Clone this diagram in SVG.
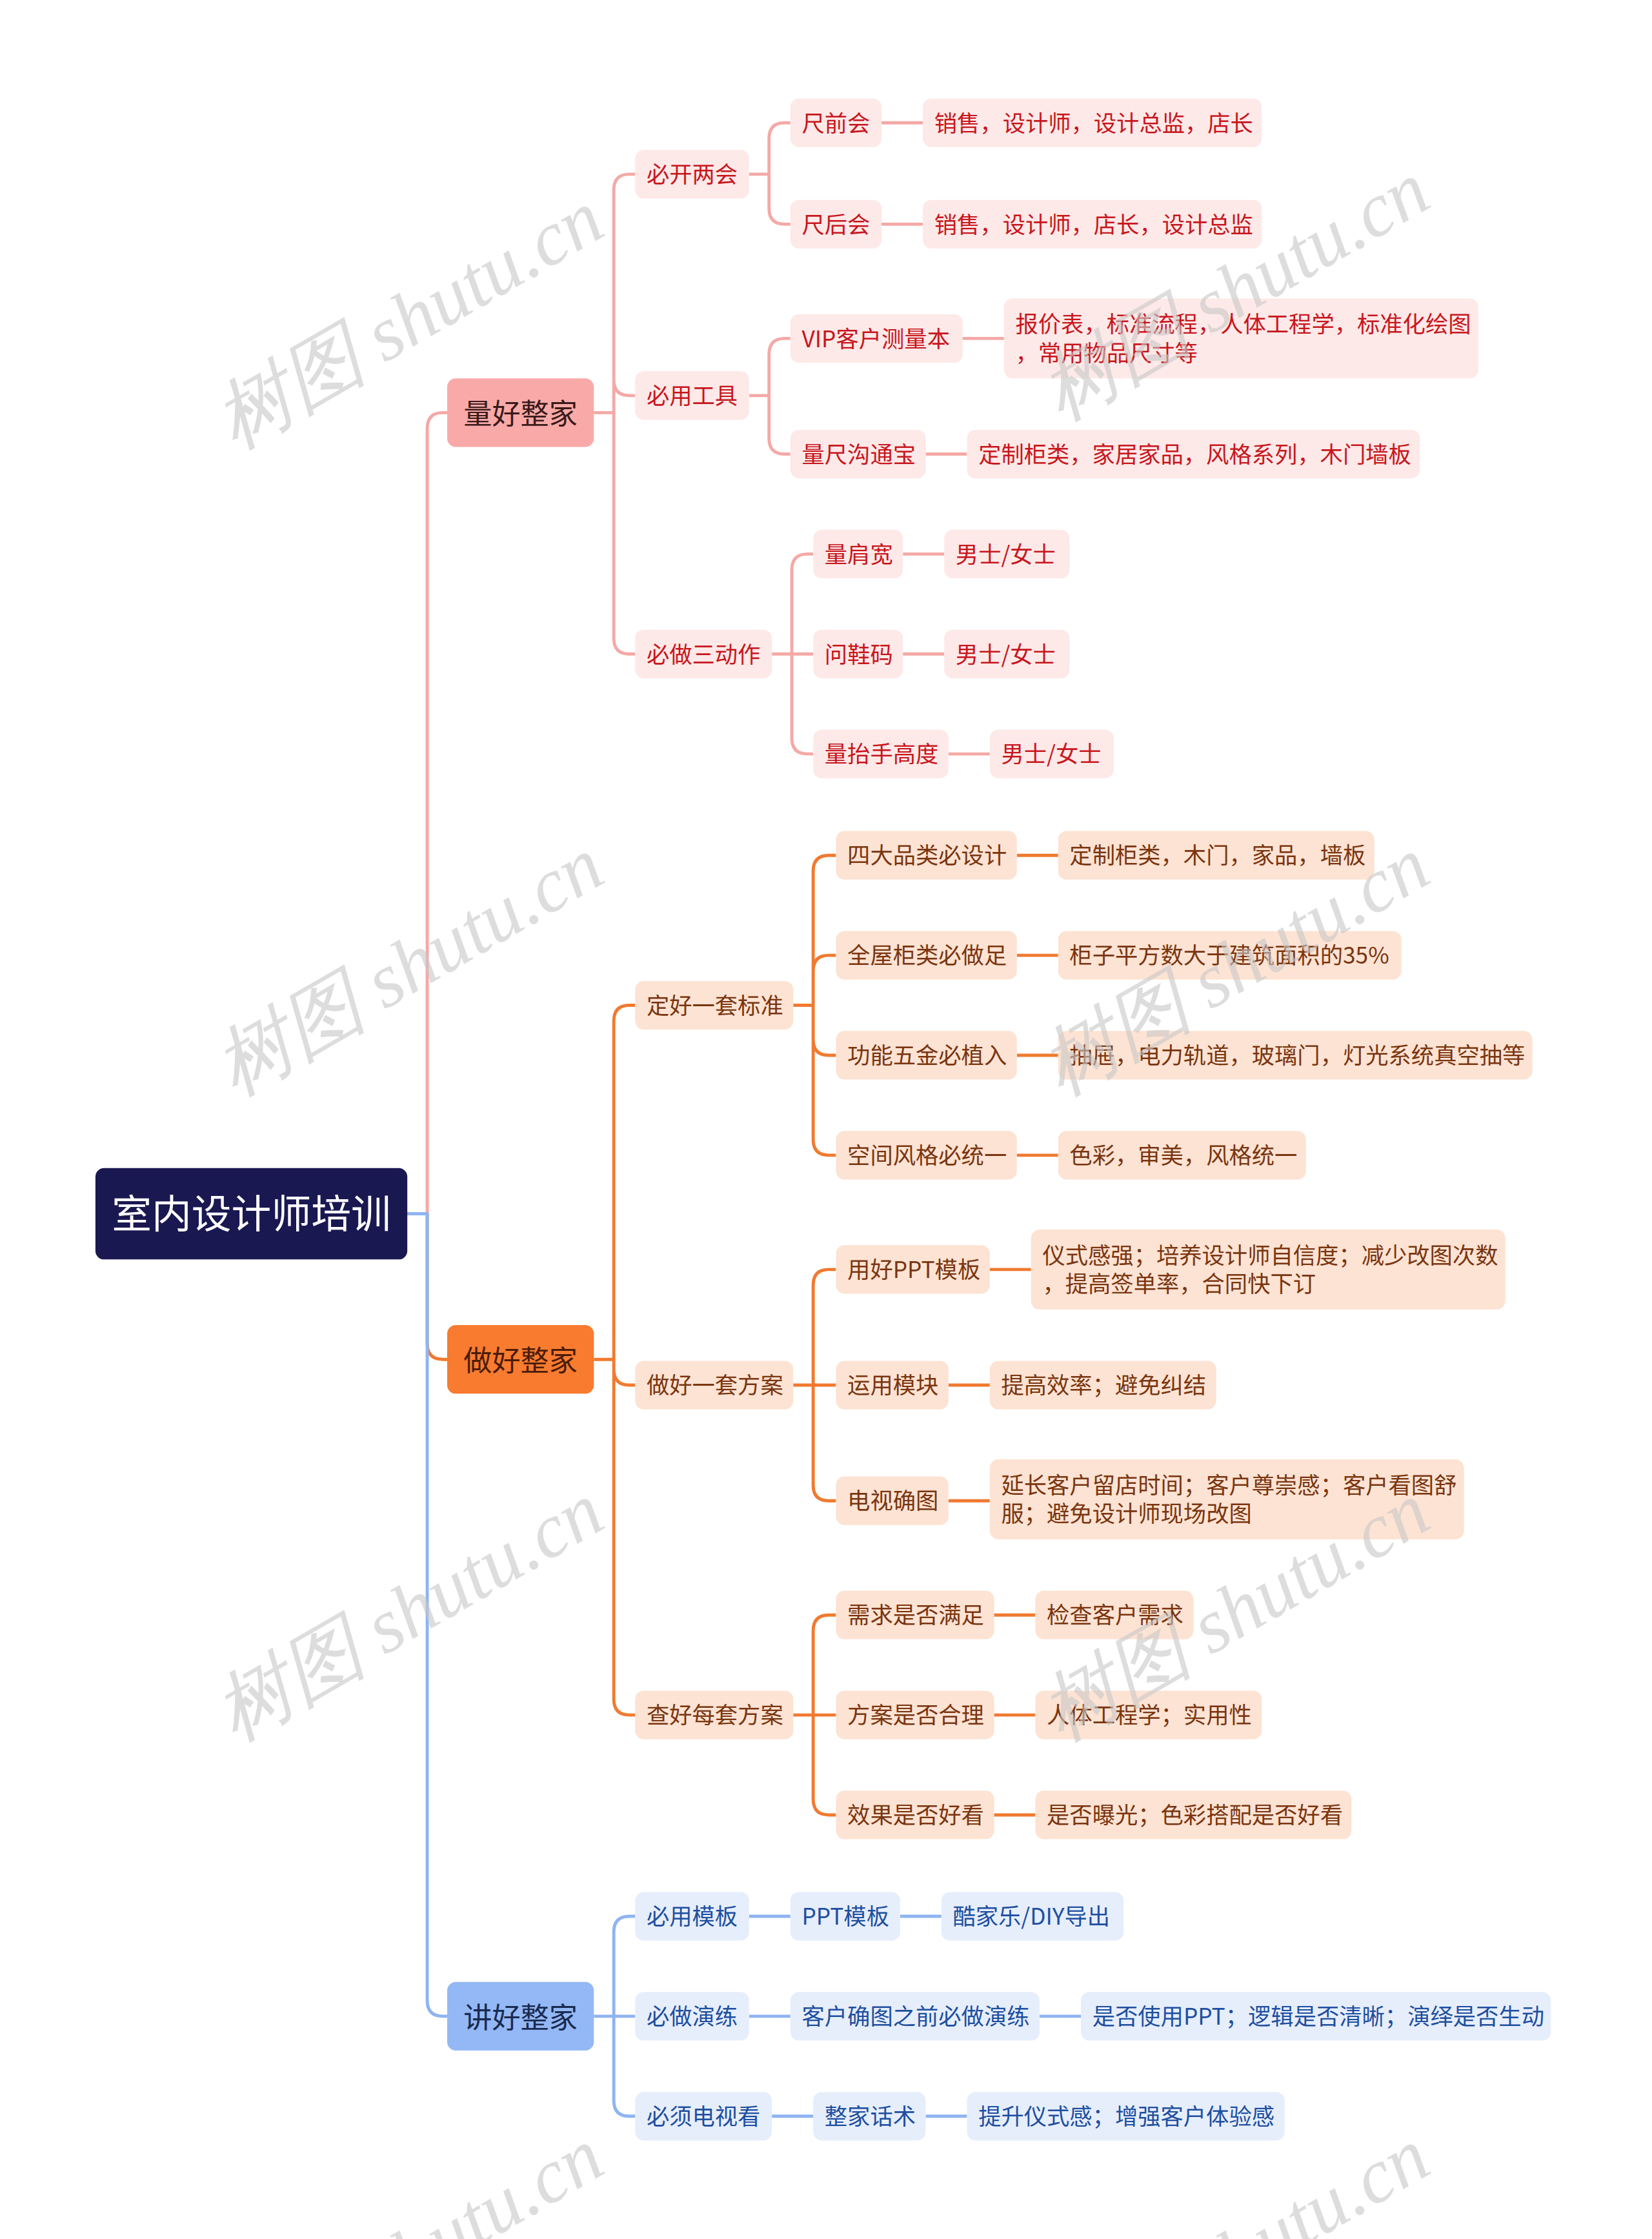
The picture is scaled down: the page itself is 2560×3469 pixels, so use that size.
<svg xmlns="http://www.w3.org/2000/svg" width="2560" height="3469" viewBox="0 0 2560 3469">
<style>
text{font-family:"Noto Sans CJK SC","Noto Sans",sans-serif;font-size:16px}
.c{fill:none;stroke-width:2.2;stroke-linejoin:round}
.cp{stroke:#f4a9a6}.co{stroke:#f07a30}.cb{stroke:#8fb4f2}
.np{fill:#fde9e8}.tp{fill:#c8161d}
.no{fill:#fde3d3}.to{fill:#7a3510}
.nb{fill:#e6eefc}.tb{fill:#1f4fa0}
.wm{font-family:"Liberation Serif",serif;font-style:italic;font-size:54px;fill:#c8c8c8;opacity:0.6}
</style>
<rect width="2560" height="3469" fill="#fff"/>
<g transform="scale(2.2069,2.2124)">
<g id="connectors">
<path class="c co" stroke-width="3" d="M286,850 H300 V941 Q300,952 311,952 H314"/>
<path class="c cp" stroke-width="3" d="M286,850 H300 V300 Q300,289 311,289 H314"/>
<path class="c cb" stroke-width="3" d="M286,850 H300 V1401 Q300,1412 311,1412 H314"/>
<path class="c cp" d="M417,289 H431 V133 Q431,122 442,122 H446 M431,289 V266 Q431,277 442,277 H446 M431,289 V447 Q431,458 442,458 H446"/>
<path class="c cp" d="M526,122 H540 V97 Q540,86 551,86 H555 M540,122 V146 Q540,157 551,157 H555 M619,86 H648 M619,157 H648"/>
<path class="c cp" d="M526,277 H540 V248 Q540,237 551,237 H555 M540,277 V307 Q540,318 551,318 H555 M676,237 H705 M650,318 H679"/>
<path class="c cp" d="M542,458 H556 V399 Q556,388 567,388 H571 M556,458 H571 M556,458 V517 Q556,528 567,528 H571 M634,388 H663 M634,458 H663 M666,528 H695"/>
<path class="c co" d="M417,952 H431 V715 Q431,704 442,704 H446 M431,952 V959 Q431,970 442,970 H446 M431,952 V1190 Q431,1201 442,1201 H446"/>
<path class="c co" d="M557,704 H571 V610 Q571,599 582,599 H587 M571,704 V680 Q571,669 582,669 H587 M571,704 V728 Q571,739 582,739 H587 M571,704 V798 Q571,809 582,809 H587 M714,599 H743 M714,669 H743 M714,739 H743 M714,809 H743"/>
<path class="c co" d="M557,970 H571 V900 Q571,889 582,889 H587 M557,970 H587 M571,970 V1040 Q571,1051 582,1051 H587 M695,889 H724 M666,970 H695 M666,1051 H695"/>
<path class="c co" d="M557,1201 H571 V1142 Q571,1131 582,1131 H587 M557,1201 H587 M571,1201 V1260 Q571,1271 582,1271 H587 M698,1131 H727 M698,1201 H727 M698,1271 H727"/>
<path class="c cb" d="M417,1412 H431 V1353 Q431,1342 442,1342 H446 M417,1412 H446 M431,1412 V1471 Q431,1482 442,1482 H446"/>
<path class="c cb" d="M526,1342 H555 M632,1342 H661 M526,1412 H555 M730,1412 H759 M542,1482 H571 M650,1482 H679"/>
</g>
<g id="root"><rect x="67" y="818" width="219" height="64" rx="6" fill="#1a1851"/><text x="176.5" y="860" text-anchor="middle" fill="#fff" style="font-size:28px">室内设计师培训</text></g>
<g id="l1a"><rect x="314" y="265" width="103" height="48" rx="6" fill="#f9aaa8"/><text x="365.5" y="297" text-anchor="middle" fill="#3a1a1a" style="font-size:20px">量好整家</text></g>
<g id="l1b"><rect x="314" y="928" width="103" height="48" rx="6" fill="#f97b30"/><text x="365.5" y="960" text-anchor="middle" fill="#4a1c08" style="font-size:20px">做好整家</text></g>
<g id="l1c"><rect x="314" y="1388" width="103" height="48" rx="6" fill="#93b8f5"/><text x="365.5" y="1420" text-anchor="middle" fill="#1a2a50" style="font-size:20px">讲好整家</text></g>
<g id="p1"><rect class="np" x="446" y="105" width="80" height="34" rx="6"/><text class="tp" x="454" y="128">必开两会</text></g>
<g id="p2"><rect class="np" x="446" y="260" width="80" height="34" rx="6"/><text class="tp" x="454" y="283">必用工具</text></g>
<g id="p3"><rect class="np" x="446" y="441" width="96" height="34" rx="6"/><text class="tp" x="454" y="464">必做三动作</text></g>
<g id="p11"><rect class="np" x="555" y="69" width="64" height="34" rx="6"/><text class="tp" x="563" y="92">尺前会</text></g>
<g id="p11l"><rect class="np" x="648" y="69" width="238" height="34" rx="6"/><text class="tp" x="656" y="92">销售，设计师，设计总监，店长</text></g>
<g id="p12"><rect class="np" x="555" y="140" width="64" height="34" rx="6"/><text class="tp" x="563" y="163">尺后会</text></g>
<g id="p12l"><rect class="np" x="648" y="140" width="238" height="34" rx="6"/><text class="tp" x="656" y="163">销售，设计师，店长，设计总监</text></g>
<g id="p21"><rect class="np" x="555" y="220" width="121" height="34" rx="6"/><text class="tp" x="563" y="243">VIP客户测量本</text></g>
<g id="p21l"><rect class="np" x="705" y="209" width="333" height="56" rx="6"/><text class="tp" x="713" y="233">报价表，标准流程，人体工程学，标准化绘图</text><text class="tp" x="713" y="253">，常用物品尺寸等</text></g>
<g id="p22"><rect class="np" x="555" y="301" width="95" height="34" rx="6"/><text class="tp" x="563" y="324">量尺沟通宝</text></g>
<g id="p22l"><rect class="np" x="679" y="301" width="318" height="34" rx="6"/><text class="tp" x="687" y="324">定制柜类，家居家品，风格系列，木门墙板</text></g>
<g id="p31"><rect class="np" x="571" y="371" width="63" height="34" rx="6"/><text class="tp" x="579" y="394">量肩宽</text></g>
<g id="p31l"><rect class="np" x="663" y="371" width="88" height="34" rx="6"/><text class="tp" x="671" y="394">男士/女士</text></g>
<g id="p32"><rect class="np" x="571" y="441" width="63" height="34" rx="6"/><text class="tp" x="579" y="464">问鞋码</text></g>
<g id="p32l"><rect class="np" x="663" y="441" width="88" height="34" rx="6"/><text class="tp" x="671" y="464">男士/女士</text></g>
<g id="p33"><rect class="np" x="571" y="511" width="95" height="34" rx="6"/><text class="tp" x="579" y="534">量抬手高度</text></g>
<g id="p33l"><rect class="np" x="695" y="511" width="87" height="34" rx="6"/><text class="tp" x="703" y="534">男士/女士</text></g>
<g id="o1"><rect class="no" x="446" y="687" width="111" height="34" rx="6"/><text class="to" x="454" y="710">定好一套标准</text></g>
<g id="o2"><rect class="no" x="446" y="953" width="111" height="34" rx="6"/><text class="to" x="454" y="976">做好一套方案</text></g>
<g id="o3"><rect class="no" x="446" y="1184" width="111" height="34" rx="6"/><text class="to" x="454" y="1207">查好每套方案</text></g>
<g id="o11"><rect class="no" x="587" y="582" width="127" height="34" rx="6"/><text class="to" x="595" y="605">四大品类必设计</text></g>
<g id="o11l"><rect class="no" x="743" y="582" width="222" height="34" rx="6"/><text class="to" x="751" y="605">定制柜类，木门，家品，墙板</text></g>
<g id="o12"><rect class="no" x="587" y="652" width="127" height="34" rx="6"/><text class="to" x="595" y="675">全屋柜类必做足</text></g>
<g id="o12l"><rect class="no" x="743" y="652" width="241" height="34" rx="6"/><text class="to" x="751" y="675">柜子平方数大于建筑面积的35%</text></g>
<g id="o13"><rect class="no" x="587" y="722" width="127" height="34" rx="6"/><text class="to" x="595" y="745">功能五金必植入</text></g>
<g id="o13l"><rect class="no" x="743" y="722" width="333" height="34" rx="6"/><text class="to" x="751" y="745">抽屉，电力轨道，玻璃门，灯光系统真空抽等</text></g>
<g id="o14"><rect class="no" x="587" y="792" width="127" height="34" rx="6"/><text class="to" x="595" y="815">空间风格必统一</text></g>
<g id="o14l"><rect class="no" x="743" y="792" width="174" height="34" rx="6"/><text class="to" x="751" y="815">色彩，审美，风格统一</text></g>
<g id="o21"><rect class="no" x="587" y="872" width="108" height="34" rx="6"/><text class="to" x="595" y="895">用好PPT模板</text></g>
<g id="o21l"><rect class="no" x="724" y="861" width="333" height="56" rx="6"/><text class="to" x="732" y="885">仪式感强；培养设计师自信度；减少改图次数</text><text class="to" x="732" y="905">，提高签单率，合同快下订</text></g>
<g id="o22"><rect class="no" x="587" y="953" width="79" height="34" rx="6"/><text class="to" x="595" y="976">运用模块</text></g>
<g id="o22l"><rect class="no" x="695" y="953" width="159" height="34" rx="6"/><text class="to" x="703" y="976">提高效率；避免纠结</text></g>
<g id="o23"><rect class="no" x="587" y="1034" width="79" height="34" rx="6"/><text class="to" x="595" y="1057">电视确图</text></g>
<g id="o23l"><rect class="no" x="695" y="1022" width="333" height="56" rx="6"/><text class="to" x="703" y="1046">延长客户留店时间；客户尊崇感；客户看图舒</text><text class="to" x="703" y="1066">服；避免设计师现场改图</text></g>
<g id="o31"><rect class="no" x="587" y="1114" width="111" height="34" rx="6"/><text class="to" x="595" y="1137">需求是否满足</text></g>
<g id="o31l"><rect class="no" x="727" y="1114" width="111" height="34" rx="6"/><text class="to" x="735" y="1137">检查客户需求</text></g>
<g id="o32"><rect class="no" x="587" y="1184" width="111" height="34" rx="6"/><text class="to" x="595" y="1207">方案是否合理</text></g>
<g id="o32l"><rect class="no" x="727" y="1184" width="159" height="34" rx="6"/><text class="to" x="735" y="1207">人体工程学；实用性</text></g>
<g id="o33"><rect class="no" x="587" y="1254" width="111" height="34" rx="6"/><text class="to" x="595" y="1277">效果是否好看</text></g>
<g id="o33l"><rect class="no" x="727" y="1254" width="222" height="34" rx="6"/><text class="to" x="735" y="1277">是否曝光；色彩搭配是否好看</text></g>
<g id="b1"><rect class="nb" x="446" y="1325" width="80" height="34" rx="6"/><text class="tb" x="454" y="1348">必用模板</text></g>
<g id="b1a"><rect class="nb" x="555" y="1325" width="77" height="34" rx="6"/><text class="tb" x="563" y="1348">PPT模板</text></g>
<g id="b1b"><rect class="nb" x="661" y="1325" width="128" height="34" rx="6"/><text class="tb" x="669" y="1348">酷家乐/DIY导出</text></g>
<g id="b2"><rect class="nb" x="446" y="1395" width="80" height="34" rx="6"/><text class="tb" x="454" y="1418">必做演练</text></g>
<g id="b2a"><rect class="nb" x="555" y="1395" width="175" height="34" rx="6"/><text class="tb" x="563" y="1418">客户确图之前必做演练</text></g>
<g id="b2b"><rect class="nb" x="759" y="1395" width="330" height="34" rx="6"/><text class="tb" x="767" y="1418">是否使用PPT；逻辑是否清晰；演绎是否生动</text></g>
<g id="b3"><rect class="nb" x="446" y="1465" width="96" height="34" rx="6"/><text class="tb" x="454" y="1488">必须电视看</text></g>
<g id="b3a"><rect class="nb" x="571" y="1465" width="79" height="34" rx="6"/><text class="tb" x="579" y="1488">整家话术</text></g>
<g id="b3b"><rect class="nb" x="679" y="1465" width="223" height="34" rx="6"/><text class="tb" x="687" y="1488">提升仪式感；增强客户体验感</text></g>
<g id="watermarks">
<text class="wm" transform="translate(165,315) rotate(-30)">树图 shutu.cn</text>
<text class="wm" transform="translate(745,295) rotate(-30)">树图 shutu.cn</text>
<text class="wm" transform="translate(165,768) rotate(-30)">树图 shutu.cn</text>
<text class="wm" transform="translate(745,768) rotate(-30)">树图 shutu.cn</text>
<text class="wm" transform="translate(165,1220) rotate(-30)">树图 shutu.cn</text>
<text class="wm" transform="translate(745,1220) rotate(-30)">树图 shutu.cn</text>
<text class="wm" transform="translate(165,1672) rotate(-30)">树图 shutu.cn</text>
<text class="wm" transform="translate(745,1672) rotate(-30)">树图 shutu.cn</text>
</g>
</g>
</svg>
